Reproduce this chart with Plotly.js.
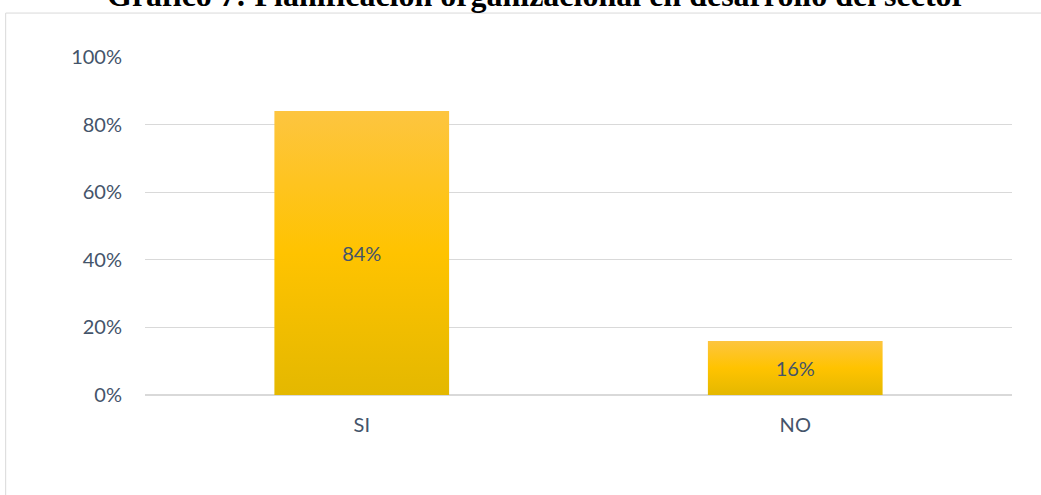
<!DOCTYPE html>
<html>
<head>
<meta charset="utf-8">
<script src="https://cdn.plot.ly/plotly-3.0.1.min.js"></script>
<style>
html,body{margin:0;padding:0;background:#fff;}
#chart{width:1041px;height:495px;}
</style>
</head>
<body>
<div id="chart"></div>
<script>
const categories = ["SI", "NO"];
const values = [0.84, 0.16];
const labels = ["84%", "16%"];
const tickVals = [0, 0.2, 0.4, 0.6, 0.8, 1.0];
const tickText = ["0%", "20%", "40%", "60%", "80%", "100%"];
const titleText = "Gráfico 7: Planificación organizacional en desarrollo del sector";

const textColor = "#44546A";
const tickFont = {family: "Lato, 'Open Sans', sans-serif", size: 20, color: textColor};

const trace = {
  type: "bar",
  x: categories,
  y: values,
  text: labels,
  textposition: "inside",
  insidetextanchor: "middle",
  textangle: 0,
  textfont: {family: "Lato, 'Open Sans', sans-serif", size: 20, color: textColor},
  marker: {color: "#F8C200", line: {width: 0}},
  hoverinfo: "skip"
};

const layout = {
  width: 1041,
  height: 495,
  margin: {l: 144.5, r: 28.5, t: 57, b: 100, pad: 0},
  paper_bgcolor: "#ffffff",
  plot_bgcolor: "#ffffff",
  bargap: 0.597,
  showlegend: false,
  xaxis: {
    type: "category",
    showgrid: false,
    zeroline: false,
    showline: false,
    ticks: "",
    tickfont: tickFont,
    ticklabelstandoff: 16
  },
  yaxis: {
    range: [0, 1],
    tickvals: tickVals,
    ticktext: tickText,
    showgrid: true,
    gridcolor: "#D9D9D9",
    gridwidth: 1,
    zeroline: true,
    zerolinecolor: "#D9D9D9",
    zerolinewidth: 1.5,
    showline: false,
    ticks: "",
    tickfont: tickFont,
    ticklabelstandoff: 22
  },
  shapes: [{
    type: "rect",
    xref: "paper", yref: "paper",
    x0: -0.1607, x1: 1.04,
    y0: -0.32, y1: 1.130,
    line: {color: "#D9D9D9", width: 1},
    fillcolor: "rgba(0,0,0,0)",
    layer: "below"
  }],
  annotations: [{
    text: "<b>" + titleText + "</b>",
    xref: "paper", yref: "paper",
    x: 0.452, y: 1.124,
    xanchor: "center", yanchor: "bottom",
    showarrow: false,
    font: {family: "'Liberation Serif', 'Times New Roman', serif", size: 32, color: "#000000"}
  }]
};

Plotly.newPlot("chart", [trace], layout, {displayModeBar: false, staticPlot: true}).then(function(gd){
  const svg = gd.querySelector("svg.main-svg");
  const ns = "http://www.w3.org/2000/svg";
  let defs = svg.querySelector("defs");
  if (!defs) { defs = document.createElementNS(ns, "defs"); svg.insertBefore(defs, svg.firstChild); }
  const grad = document.createElementNS(ns, "linearGradient");
  grad.setAttribute("id", "barGrad");
  grad.setAttribute("x1", "0"); grad.setAttribute("y1", "0");
  grad.setAttribute("x2", "0"); grad.setAttribute("y2", "1");
  [["0", "#FDC540"], ["0.5", "#FFC300"], ["1", "#E4B800"]].forEach(function(s){
    const st = document.createElementNS(ns, "stop");
    st.setAttribute("offset", s[0]);
    st.setAttribute("stop-color", s[1]);
    grad.appendChild(st);
  });
  defs.appendChild(grad);
  gd.querySelectorAll(".barlayer .point path").forEach(function(p){
    p.style.fill = "url(#barGrad)";
  });
});
</script>
</body>
</html>
